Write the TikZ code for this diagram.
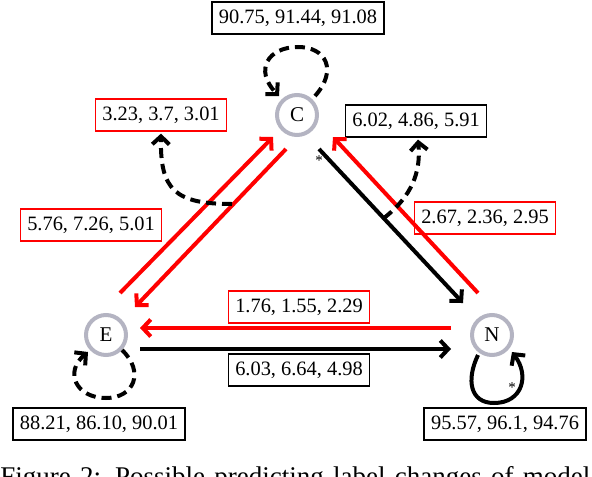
\documentclass[tikz,border=0pt]{standalone}
\usepackage{fontspec}
\setmainfont{Liberation Serif}
\usetikzlibrary{arrows.meta}
\definecolor{stategray}{RGB}{180,180,194}
\begin{document}
\begin{tikzpicture}[x=0.5pt,y=-0.5pt,
  state/.style={circle, draw=stategray, line width=2pt, minimum size=20pt, inner sep=0pt, font=\fontsize{10.5}{12}\selectfont},
  blabel/.style={draw=black, line width=0.6pt, inner xsep=3.5pt, inner ysep=0pt, minimum height=16pt, font=\fontsize{10.2}{12}\selectfont},
  rlabel/.style={blabel, draw=red},
  tipstyle/.style={-{Straight Barb[length=4pt,width=8.5pt]}},
  redarr/.style={draw=red, line width=2pt, tipstyle},
  blkarr/.style={draw=black, line width=2pt, tipstyle},
  dasharr/.style={draw=black, line width=2pt, dash pattern=on 5pt off 3pt, tipstyle},
  star/.style={inner sep=0pt, font=\fontsize{7.5}{8}\selectfont}
]
\useasboundingbox (0,0) rectangle (592,476);

% states
\node[state] (C) at (297,115) {C};
\node[state] (E) at (106,335) {E};
\node[state] (N) at (492,335) {N};

% labels
\node[blabel] (bC)  at (298,18)  {90.75, 91.44, 91.08};
\node[rlabel] (bCE) at (161,115) {3.23, 3.7, 3.01};
\node[blabel] (bCN) at (416,121) {6.02, 4.86, 5.91};
\node[rlabel] (bEC) at (91,225)  {5.76, 7.26, 5.01};
\node[rlabel] (bNC) at (485,218) {2.67, 2.36, 2.95};
\node[rlabel] (bNE) at (299,307) {1.76, 1.55, 2.29};
\node[blabel] (bEN) at (299,370) {6.03, 6.64, 4.98};
\node[blabel] (bE)  at (99,424)  {88.21, 86.10, 90.01};
\node[blabel] (bN)  at (505,424) {95.57, 96.1, 94.76};

% connector end points
\coordinate (ec1) at (120,293); \coordinate (ec2) at (273,137);
\coordinate (ce1) at (286,149); \coordinate (ce2) at (135,307);
\coordinate (cn1) at (319,149); \coordinate (cn2) at (463,303);
\coordinate (nc1) at (478,293); \coordinate (nc2) at (333,137);
\coordinate (ne1) at (451,328); \coordinate (ne2) at (140,328);
\coordinate (en1) at (140,349); \coordinate (en2) at (451,349);
\coordinate (dl) at (232,204);
\coordinate (dr) at (384,218);

% edges
\draw[redarr] (ec1) -- (ec2);
\draw[redarr] (ce1) -- (ce2);
\draw[blkarr] (cn1) -- (cn2);
\draw[redarr] (nc1) -- (nc2);
\draw[redarr] (ne1) -- (ne2);
\draw[blkarr] (en1) -- (en2);
\node[star] (s1) at (319,161) {*};

% dashed links to labels
\draw[dasharr] (dl) .. controls (175,204) and (160,190) .. ([yshift=-1pt]bCE.south);
\draw[dasharr] (dr) .. controls (412,196) and (421,172) .. ([xshift=1pt,yshift=-1pt]bCN.south);

% self loops
\coordinate (cl1) at (315,96); \coordinate (cl2) at (279,96);
\draw[dasharr] (cl1) .. controls (338,70) and (326,47) .. (298,47)
               .. controls (268,47) and (254,70) .. (cl2);
\coordinate (el1) at (122,350); \coordinate (el2) at (88,352);
\draw[dasharr] (el1) .. controls (145,372) and (134,398) .. (106,398)
               .. controls (76,398) and (64,372) .. (el2);
\coordinate (nl1) at (478,355); \coordinate (nl2) at (512,352);
\draw[blkarr] (nl1) .. controls (466,380) and (470,403) .. (494,403)
               .. controls (522,403) and (530,376) .. (nl2);
\node[star] (s2) at (512,388) {*};

% caption (cut off at the bottom edge, as in the reference)
\node[anchor=base west, inner sep=0pt, font=\fontsize{13.5}{16}\selectfont] (cap) at (0,485)
  {\makebox[295pt][s]{Figure 2: Possible predicting label changes of model}};
\end{tikzpicture}
\end{document}
